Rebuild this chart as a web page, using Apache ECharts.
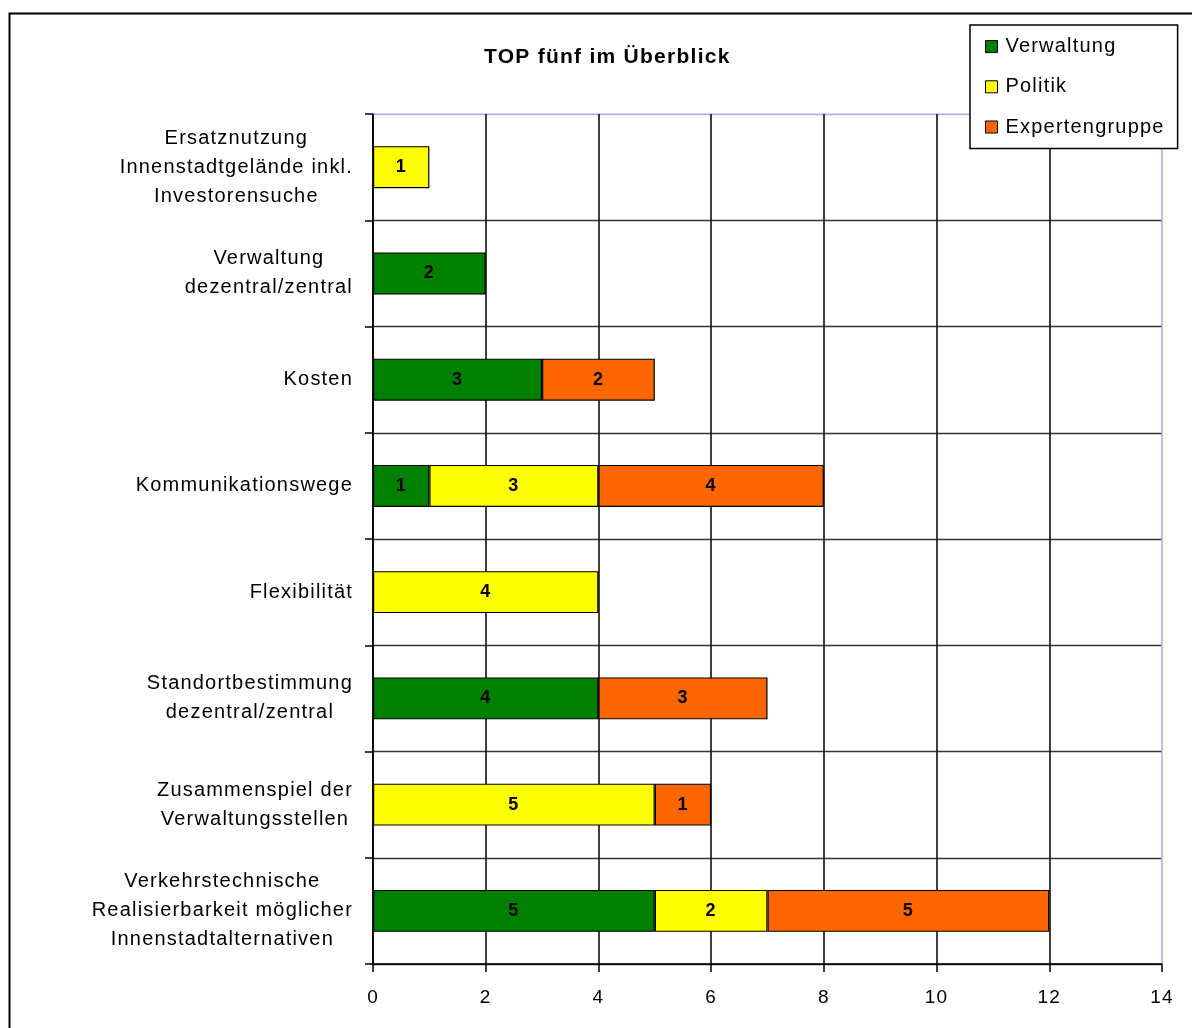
<!DOCTYPE html>
<html>
<head>
<meta charset="utf-8">
<script src="https://cdn.jsdelivr.net/npm/echarts@6/dist/echarts.min.js"></script>
<style>
  html, body { margin: 0; padding: 0; background: #fff; }
  #chart { width: 1192px; height: 1028px; }
</style>
</head>
<body>
<div id="chart"></div>
<script>
// Slightly tracked-out lettering: every time a canvas font is set, a letter
// spacing proportional to its pixel size is applied (measuring and drawing alike).
(function () {
  const proto = window.CanvasRenderingContext2D && CanvasRenderingContext2D.prototype;
  if (!proto || !('letterSpacing' in proto)) return;
  const desc = Object.getOwnPropertyDescriptor(proto, 'font');
  Object.defineProperty(proto, 'font', {
    configurable: true,
    get: function () { return desc.get.call(this); },
    set: function (v) {
      desc.set.call(this, v);
      const m = /(\d+(?:\.\d+)?)px/.exec(v);
      if (m) this.letterSpacing = (parseFloat(m[1]) * 0.06).toFixed(2) + 'px';
    }
  });
})();

// Themen (top to bottom)
const categories = [
  'Ersatznutzung\nInnenstadtgelände inkl.\nInvestorensuche',
  'Verwaltung\ndezentral/zentral',
  'Kosten',
  'Kommunikationswege',
  'Flexibilität',
  'Standortbestimmung\ndezentral/zentral',
  'Zusammenspiel der\nVerwaltungsstellen',
  'Verkehrstechnische\nRealisierbarkeit möglicher\nInnenstadtalternativen'
];

// Nennungen je Gruppe (null = keine Nennung)
const verwaltung     = [null, 2, 3, 1, null, 4, null, 5];
const politik        = [1, null, null, 3, 4, null, 5, 2];
const expertengruppe = [null, null, 2, 4, null, 3, 1, 5];

const xTicks = { min: 0, max: 14, interval: 2 };

const FONT = '"Liberation Sans", Arial, Helvetica, sans-serif';
const FRAME = '#b4b4ec';
const SEP = '#333';

function seriesOf(name, data, color) {
  return {
    name: name,
    type: 'bar',
    stack: 'total',
    data: data,
    barWidth: 42,
    itemStyle: { color: color, borderColor: '#000', borderWidth: 1.2 },
    label: {
      show: true,
      position: 'inside',
      color: '#000',
      fontFamily: FONT,
      fontWeight: 'bold',
      fontSize: 18
    },
    emphasis: { disabled: true }
  };
}

const chart = echarts.init(document.getElementById('chart'), null, { renderer: 'canvas' });

chart.setOption({
  backgroundColor: '#fff',
  animation: false,
  textStyle: { fontFamily: FONT },
  title: {
    text: 'TOP fünf im Überblick',
    left: 479,
    top: 41,
    textStyle: { fontFamily: FONT, fontWeight: 'bold', fontSize: 21, color: '#000' }
  },
  legend: {
    orient: 'vertical',
    left: 970,
    top: 25,
    padding: [11, 13, 11, 15],
    itemGap: 19,
    itemWidth: 12,
    itemHeight: 12,
    icon: 'rect',
    backgroundColor: '#fff',
    borderColor: '#000',
    borderWidth: 1.5,
    itemStyle: { borderColor: '#000', borderWidth: 1 },
    textStyle: { fontFamily: FONT, fontSize: 20, lineHeight: 20, color: '#000', padding: [0, 0, 0, 3] },
    data: ['Verwaltung', 'Politik', 'Expertengruppe']
  },
  graphic: [{
    type: 'rect',
    left: 7,
    top: 11,
    shape: { width: 1250, height: 1100 },
    style: { fill: null, stroke: '#000', lineWidth: 2 },
    silent: true,
    z: -1
  }],
  grid: {
    left: 373,
    right: 30,
    top: 114,
    bottom: 64,
    show: true,
    borderColor: FRAME,
    borderWidth: 1,
    backgroundColor: '#fff'
  },
  xAxis: {
    type: 'value',
    min: xTicks.min,
    max: xTicks.max,
    interval: xTicks.interval,
    axisLine: { show: true, lineStyle: { color: '#000', width: 1.5 } },
    axisTick: { show: true, length: 8, lineStyle: { color: '#000', width: 1.5 } },
    axisLabel: { color: '#000', fontFamily: FONT, fontSize: 19, margin: 24 },
    splitLine: {
      show: true,
      lineStyle: {
        color: ['#000', '#000', '#000', '#000', '#000', '#000', '#000', FRAME],
        width: 1.5
      }
    }
  },
  yAxis: {
    type: 'category',
    inverse: true,
    data: categories,
    axisLine: { show: true, lineStyle: { color: '#000', width: 1.5 } },
    axisTick: { show: true, length: 8, lineStyle: { color: '#000', width: 1.5 } },
    splitLine: {
      show: true,
      lineStyle: { color: [FRAME, SEP, SEP, SEP, SEP, SEP, SEP, SEP, SEP], width: 1.3 }
    },
    axisLabel: {
      margin: 20,
      align: 'right',
      formatter: function (v) {
        return v.split('\n').map(function (l) { return '{c|' + l + '}'; }).join('\n');
      },
      rich: {
        c: { align: 'center', fontFamily: FONT, fontSize: 20, lineHeight: 29, color: '#000' }
      }
    }
  },
  series: [
    seriesOf('Verwaltung', verwaltung, '#008000'),
    seriesOf('Politik', politik, '#ffff00'),
    seriesOf('Expertengruppe', expertengruppe, '#ff6600')
  ]
});
</script>
</body>
</html>
